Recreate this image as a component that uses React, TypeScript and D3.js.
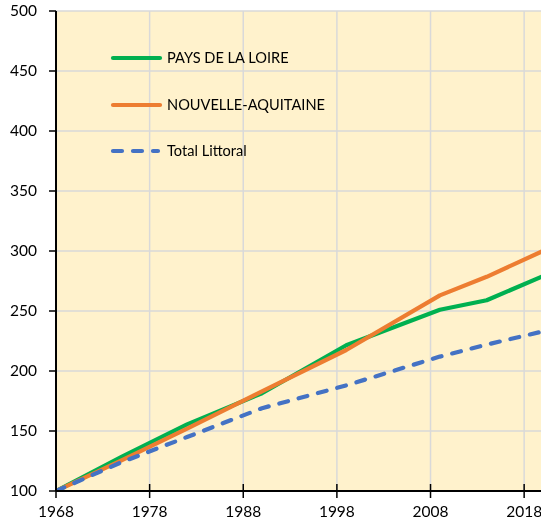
import React from "react";
import * as d3 from "d3";

const years = [1968, 1975, 1982, 1990, 1999, 2009, 2014, 2020];
const paysDeLaLoire = [100, 128.5, 155.5, 181.5, 221.5, 251, 259, 279];
const nouvelleAquitaine = [100, 125.5, 152, 183, 217.5, 263, 278.5, 300];
const totalLittoral = [100, 124, 145, 169, 188, 212, 222, 233];
const xTicks = [1968, 1978, 1988, 1998, 2008, 2018];
const yTicks = [100, 150, 200, 250, 300, 350, 400, 450, 500];

const seriesNames = ["PAYS DE LA LOIRE", "NOUVELLE-AQUITAINE", "Total Littoral"];
const seriesColors = ["#00B050", "#ED7D31", "#4472C4"];

const W = 541;
const H = 522;
const left = 56;
const top = 11;
const bottom = 491;
const right = 541;

export default function App() {
  const x = d3.scaleLinear().domain([1968, 2019.8]).range([left, right]);
  const y = d3.scaleLinear().domain([100, 500]).range([bottom, top]);
  const line = d3
    .line<number>()
    .x((_, i) => x(years[i]))
    .y((d) => y(d));
  const all = [paysDeLaLoire, nouvelleAquitaine, totalLittoral];
  const font = "Lato, 'Open Sans', sans-serif";
  const legendY = [58, 105, 151];
  return (
    <div style={{ position: "fixed", left: 0, top: 0 }}>
      <svg width={W} height={H} style={{ display: "block" }} fontFamily={font}>
        <defs>
          <clipPath id="plot">
            <rect x={left} y={top} width={right - left} height={bottom - top} />
          </clipPath>
        </defs>
        <rect x={left} y={top} width={right - left} height={bottom - top} fill="#FFF2CC" />
        {yTicks.map((t) => (
          <line key={"gy" + t} x1={left} x2={right} y1={y(t)} y2={y(t)} stroke="#D9D9D9" strokeWidth={1.5} />
        ))}
        {xTicks.map((t) => (
          <line key={"gx" + t} x1={x(t)} x2={x(t)} y1={top} y2={bottom} stroke="#D9D9D9" strokeWidth={1.5} />
        ))}
        <g clipPath="url(#plot)">
          {all.map((s, i) => (
            <path
              key={i}
              d={line(s) || ""}
              fill="none"
              stroke={seriesColors[i]}
              strokeWidth={4.2}
              strokeLinejoin="round"
              strokeLinecap="round"
              strokeDasharray={i === 2 ? "9 11" : undefined}
            />
          ))}
        </g>
        <line x1={left} x2={left} y1={top} y2={bottom} stroke="#000" strokeWidth={2} />
        <line x1={left} x2={right} y1={bottom} y2={bottom} stroke="#000" strokeWidth={2} />
        {yTicks.map((t) => (
          <g key={"yt" + t}>
            <line x1={left - 7} x2={left} y1={y(t)} y2={y(t)} stroke="#000" strokeWidth={1.5} />
            <text x={37} y={y(t)} dy="0.35em" textAnchor="end" fontSize={15.5} fill="#000">
              {t}
            </text>
          </g>
        ))}
        {xTicks.map((t) => (
          <g key={"xt" + t}>
            <line x1={x(t)} x2={x(t)} y1={bottom - 7} y2={bottom + 7} stroke="#000" strokeWidth={1.5} />
            <text x={x(t)} y={517} textAnchor="middle" fontSize={15.5} fill="#000">
              {t}
            </text>
          </g>
        ))}
        {seriesNames.map((n, i) => (
          <g key={n}>
            <line
              x1={113}
              x2={i === 2 ? 158 : 160}
              y1={legendY[i]}
              y2={legendY[i]}
              stroke={seriesColors[i]}
              strokeWidth={4.2}
              strokeLinecap="round"
              strokeDasharray={i === 2 ? "9 11" : undefined}
            />
            <text x={167} y={legendY[i]} dy="0.35em" fontSize={14.6} fill="#000">
              {n}
            </text>
          </g>
        ))}
      </svg>
    </div>
  );
}
